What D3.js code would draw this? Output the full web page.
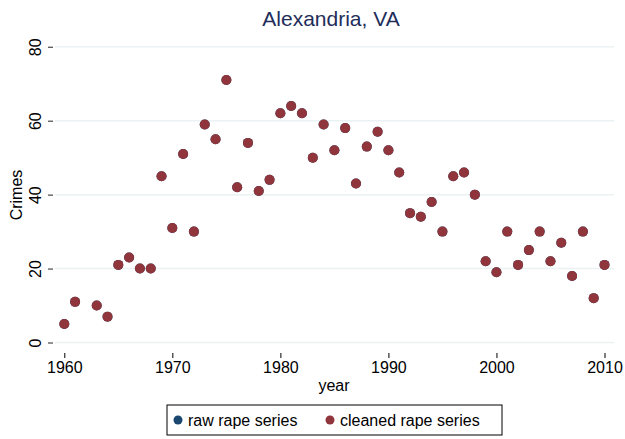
<!DOCTYPE html>
<html><head><meta charset="utf-8">
<script src="https://cdn.jsdelivr.net/npm/d3@7"></script>
<style>body{margin:0;background:#fff}svg{display:block;font-family:"Liberation Sans",Arial,Helvetica,sans-serif}</style>
</head><body>
<script>
const years = [1960,1961,1963,1964,1965,1966,1967,1968,1969,1970,1971,1972,1973,1974,1975,1976,1977,1978,1979,1980,1981,1982,1983,1984,1985,1986,1987,1988,1989,1990,1991,1992,1993,1994,1995,1996,1997,1998,1999,2000,2001,2002,2003,2004,2005,2006,2007,2008,2009,2010];
const cleanedRape = [5,11,10,7,21,23,20,20,45,31,51,30,59,55,71,42,54,41,44,62,64,62,50,59,52,58,43,53,57,52,46,35,34,38,30,45,46,40,22,19,30,21,25,30,22,27,18,30,12,21];
const rawRape = cleanedRape.slice();
const yTicks = [0,20,40,60,80];
const xTicks = [1960,1970,1980,1990,2000,2010];
const seriesNames = ["raw rape series","cleaned rape series"];
const seriesColors = ["#1a476f","#90353b"];

const W=625,H=439;
const svg=d3.select("body").append("svg").attr("width",W).attr("height",H);
const x=d3.scaleLinear().domain([1960,2010]).range([64.3,604.5]);
const y=d3.scaleLinear().domain([0,80]).range([342.5,46.8]);

// gridlines
svg.append("g").selectAll("line").data(yTicks).join("line")
  .attr("x1",55).attr("x2",614).attr("y1",d=>y(d)).attr("y2",d=>y(d))
  .attr("stroke","#eaf2f3").attr("stroke-width",1.5);

// y axis
const ya=svg.append("g").attr("transform","translate(53,0)")
  .call(d3.axisLeft(y).tickValues(yTicks).tickSize(5).tickPadding(0).tickFormat(d3.format("d")));
ya.select(".domain").remove();
ya.selectAll(".tick line").attr("stroke","#555").attr("stroke-width",1.3);
ya.selectAll(".tick text").attr("font-size",16).attr("fill","#000")
  .attr("transform","rotate(-90)").attr("x",0).attr("y",-12).attr("dy","0").attr("text-anchor","middle");

// x axis
const xa=svg.append("g").attr("transform","translate(0,353)")
  .call(d3.axisBottom(x).tickValues(xTicks).tickSize(5).tickPadding(4).tickFormat(d3.format("d")));
xa.select(".domain").remove();
xa.selectAll(".tick line").attr("stroke","#000").attr("stroke-width",1);
xa.selectAll(".tick text").attr("font-size",16).attr("fill","#000").attr("dy","0.71em");

// axis titles
svg.append("text").attr("x",334).attr("y",391).attr("text-anchor","middle").attr("font-size",16).text("year");
svg.append("text").attr("transform","translate(22,195) rotate(-90)").attr("text-anchor","middle").attr("font-size",16).text("Crimes");

// title
svg.append("text").attr("x",331).attr("y",26).attr("text-anchor","middle").attr("font-size",21).attr("fill","#1e2d5a").text("Alexandria, VA");

// points
svg.append("g").selectAll("circle").data(years.map((d,i)=>[d,rawRape[i]])).join("circle")
  .attr("cx",d=>x(d[0])).attr("cy",d=>y(d[1])).attr("r",5).attr("fill",seriesColors[0]);
svg.append("g").selectAll("circle").data(years.map((d,i)=>[d,cleanedRape[i]])).join("circle")
  .attr("cx",d=>x(d[0])).attr("cy",d=>y(d[1])).attr("r",5).attr("fill",seriesColors[1]);

// legend
const lg=svg.append("g");
lg.append("rect").attr("x",167).attr("y",405).attr("width",335).attr("height",30).attr("fill","#fff").attr("stroke","#000").attr("stroke-width",1);
const lx=[178,330];
seriesNames.forEach((n,i)=>{
  lg.append("circle").attr("cx",lx[i]).attr("cy",420).attr("r",4.5).attr("fill",seriesColors[i]);
  lg.append("text").attr("x",lx[i]+10).attr("y",425.5).attr("font-size",16).text(n);
});
</script>
</body></html>
